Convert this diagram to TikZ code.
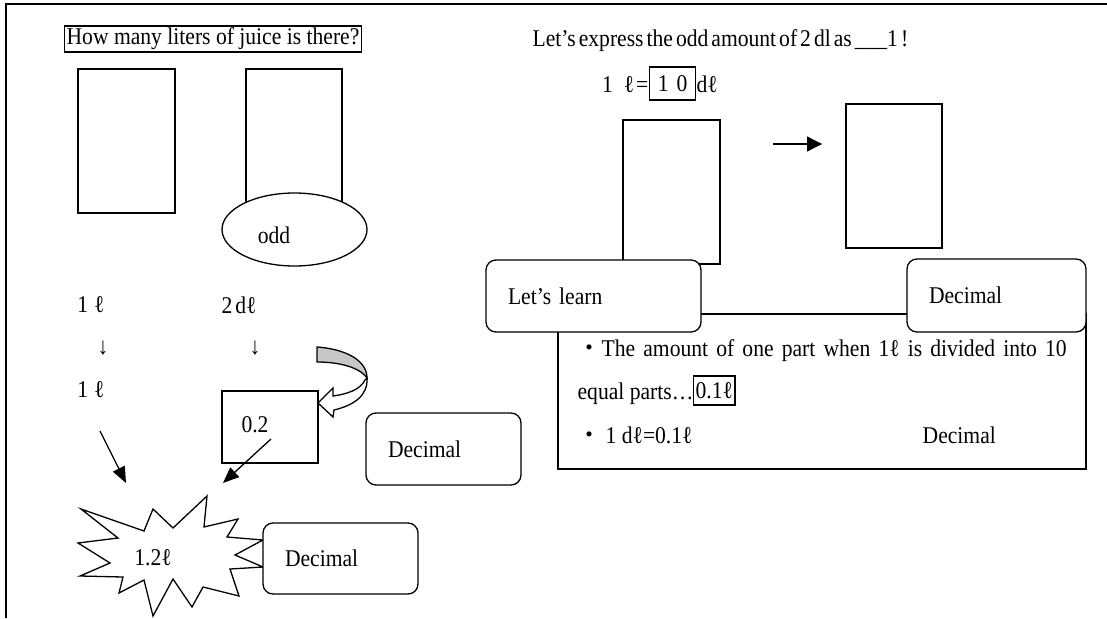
\documentclass[tikz,border=0pt]{standalone}
\usepackage{fontspec}
\setmainfont{Liberation Serif}[FakeStretch=0.9]
\newfontfamily\cjkfont{Noto Sans CJK JP}
\usetikzlibrary{positioning,shapes.geometric,arrows.meta}

\begin{document}
\begin{tikzpicture}[x=1pt, y=-1pt, line width=1.3pt,
        every node/.style={font=\fontsize{24}{28}\selectfont, inner sep=0pt},
        txt/.style={anchor=base west},
        tagbox/.style={draw, rounded corners=10pt, fill=white, inner xsep=22pt, align=left},
        framebox/.style={draw, inner sep=2pt},
        fatarrow/.style={-{Triangle[length=16pt,width=13pt]}},
        flatarrow/.style={-{Triangle[length=15pt,width=15pt]}}]
        \useasboundingbox (0,0) rectangle (1107,618);
        \draw[line width=1.5pt] (6,618) -- (6,4) -- (1107,4);

        \node[framebox] (question) at (213,39) {How many liters of juice is there?};
        \node[txt] (task) at (532,46) {\spaceskip=3pt Let’s express the odd amount of 2 dl as \_\_\_1 !};

        \draw (78,69) rectangle (175,213);
        \draw (246,69) rectangle (342,229);
        \node[ellipse, draw, fill=white, minimum width=145pt, minimum height=73pt] (oddbubble) at (294.5,229.5) {};
        \node (oddtxt) at (274,235) {odd};

        \node (litA) at (91,305) {1\hspace{6pt}ℓ};
        \node (dlA) at (239,305) {2\hspace{3pt}dℓ};
        \node (downA) at (103,348) {↓};
        \node (downB) at (255,348) {↓};
        \node (litB) at (91,390) {1\hspace{6pt}ℓ};

        \fill[black!22] (317,347) .. controls (345,349) and (367,360) .. (367,378)
          .. controls (362,370) and (345,362) .. (317,362) -- cycle;
        \draw (317,347) .. controls (345,349) and (367,360) .. (367,378)
          .. controls (362,370) and (345,362) .. (317,362) -- cycle;
        \draw[fill=white] (365,380) .. controls (360,390) and (347,394) .. (333,396) -- (333,388)
          -- (318,403) -- (333,417) -- (334,410) .. controls (355,405) and (368,395) .. (367,378) -- cycle;

        \draw (222,391) rectangle (318,463);
        \node (tenthA) at (255,425) {0.2};
        \node[tagbox, text width=111pt, minimum height=72pt] (decA) at (443.5,449) {Decimal};

        \coordinate (leftstart) at (100,431);
        \coordinate (leftend) at (126,483);
        \coordinate (rightstart) at (271,439);
        \coordinate (rightend) at (223,483);
        \draw[fatarrow] (leftstart) -- (leftend);
        \draw[fatarrow] (rightstart) -- (rightend);

        \draw[fill=white] (81,509) -- (144,531) -- (153,509) -- (173,528) -- (207,496) -- (204,527)
          -- (238,519) -- (227,537) -- (263,540) -- (235,555) -- (263,567) -- (230,569)
          -- (239,596) -- (203,587) -- (192,607) -- (173,579) -- (153,616) -- (144,580)
          -- (119,593) -- (123,577) -- (80,576) -- (110,563) -- (78,543) -- (118,538) -- cycle;
        \node (total) at (153,558) {1.2ℓ};
        \node[tagbox, text width=111pt, minimum height=71pt] (decB) at (340.5,558.5) {Decimal};

        \node[framebox, minimum width=46pt, minimum height=33pt, anchor=west] (eqbox) at (649,83.5) {1\hspace{8pt}0};
        \node[anchor=base east] (eqleft) at (649,92) {1\hspace{11pt}ℓ\hspace{2pt}=};
        \node[txt] (equnit) at (696,92) {dℓ};

        \draw (623,120) rectangle (720,264);
        \draw (846,104) rectangle (942,248);
        \coordinate (shiftA) at (773,144);
        \coordinate (shiftB) at (822,144);
        \draw[flatarrow] (shiftA) -- (shiftB);

        \draw (558,314) rectangle (1086,469);
        \node[tagbox, text width=171pt, minimum height=72pt] (learn) at (593.5,296) {Let’s learn};
        \node[tagbox, text width=135pt, minimum height=73pt] (decC) at (996.5,295.5) {Decimal};

        \node[txt] (lineA) at (577,356) {\makebox[489pt][s]{{\cjkfont ・}The amount of one part when 1ℓ is divided into 10}};
        \node[txt] (parts) at (577,399) {equal parts…};
        \node[framebox, minimum width=39pt, minimum height=29pt, anchor=west] (tenthbox) at (693,390.5) {0.1ℓ};
        \node[txt] (dlline) at (577,443) {{\cjkfont ・}\hspace{4pt}1 dℓ=0.1ℓ};
        \node[txt] (decD) at (922,443) {Decimal};
\end{tikzpicture}
\end{document}
